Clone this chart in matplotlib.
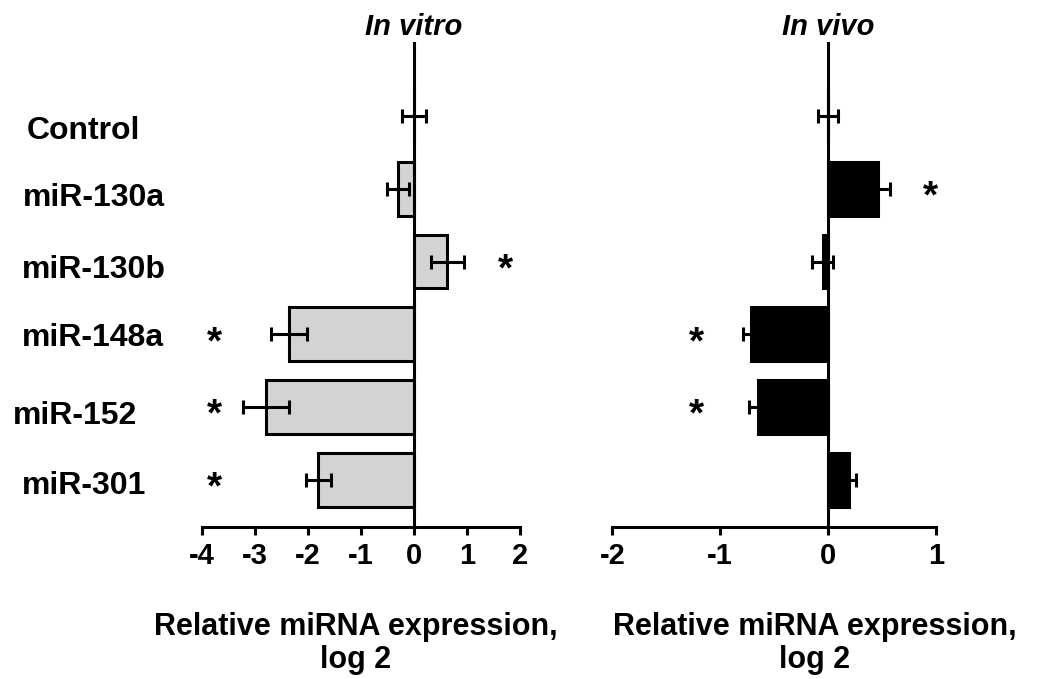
import matplotlib.pyplot as plt
import matplotlib.transforms as mtransforms
import numpy as np

plt.rcParams['font.family'] = ['Liberation Sans', 'DejaVu Sans']
plt.rcParams['font.weight'] = 'bold'

categories = ['Control', 'miR-130a', 'miR-130b', 'miR-148a', 'miR-152', 'miR-301']

# in vitro (left panel)
vitro_vals = [0.0, -0.30, 0.63, -2.35, -2.79, -1.80]
vitro_err = [0.23, 0.21, 0.31, 0.34, 0.43, 0.23]
vitro_star = [None, None, 1.72, -3.75, -3.75, -3.75]

# in vivo (right panel)
vivo_vals = [0.0, 0.46, -0.05, -0.71, -0.65, 0.19]
vivo_err = [0.09, 0.11, 0.10, 0.08, 0.08, 0.07]
vivo_star = [None, 0.95, None, -1.22, -1.22, None]

W, H = 1049, 679
fig = plt.figure(figsize=(W / 100, H / 100), dpi=100)

y = np.arange(len(categories))
lw = 2.2


def panel(rect, vals, err, stars, xlim, ticks, color, title, label_x):
    ax = fig.add_axes(rect)
    ax.barh(y, vals, height=0.74, color=color, edgecolor='black',
            linewidth=lw, zorder=2)
    ax.errorbar(vals, y, xerr=err, fmt='none', ecolor='black',
                elinewidth=2.2, capsize=5, capthick=2.2, zorder=3)
    ax.axvline(0, color='black', linewidth=lw, zorder=4)
    for yi, sx in zip(y, stars):
        if sx is not None:
            ax.text(sx, yi + 0.12, '*', fontsize=28, fontweight='bold',
                    ha='center', va='center')
    ax.set_xlim(*xlim)
    ax.set_ylim(5.65, -1.02)
    ax.set_xticks(ticks)
    ax.set_xticklabels([str(t) for t in ticks])
    ax.set_yticks([])
    for s in ['left', 'right', 'top']:
        ax.spines[s].set_visible(False)
    ax.spines['bottom'].set_linewidth(lw)
    ax.tick_params(axis='x', direction='out', length=6, width=lw,
                   labelsize=21, pad=5)
    ax.text(0, -1.12, title, fontsize=21, fontweight='bold', style='italic',
            ha='center', va='baseline', clip_on=False)
    fig.text(label_x / W, 1 - 668 / H, 'Relative miRNA expression,\nlog 2',
             fontsize=22, fontweight='bold', ha='center', va='baseline',
             multialignment='center', linespacing=1.15)
    return ax


ax1 = panel([201.7 / W, 1 - 527 / H, 318.3 / W, 485 / H],
            vitro_vals, vitro_err, vitro_star, (-4, 2),
            [-4, -3, -2, -1, 0, 1, 2], '#d3d3d3', 'In vitro', 356)
ax2 = panel([612.3 / W, 1 - 527 / H, 323.7 / W, 485 / H],
            vivo_vals, vivo_err, vivo_star, (-2, 1),
            [-2, -1, 0, 1], 'black', 'In vivo', 815)

# row labels sit a little unevenly in the original
label_left = [27, 23, 22, 22, 13, 22]
label_dy = [0.2, 0.13, 0.11, 0.05, 0.13, 0.08]
trans = mtransforms.blended_transform_factory(fig.transFigure, ax1.transData)
for yi, name, lx, dy in zip(y, categories, label_left, label_dy):
    fig.text(lx / W, yi + dy, name, fontsize=23, fontweight='bold',
             ha='left', va='center', transform=trans)

fig.savefig('out.png', dpi=100)
